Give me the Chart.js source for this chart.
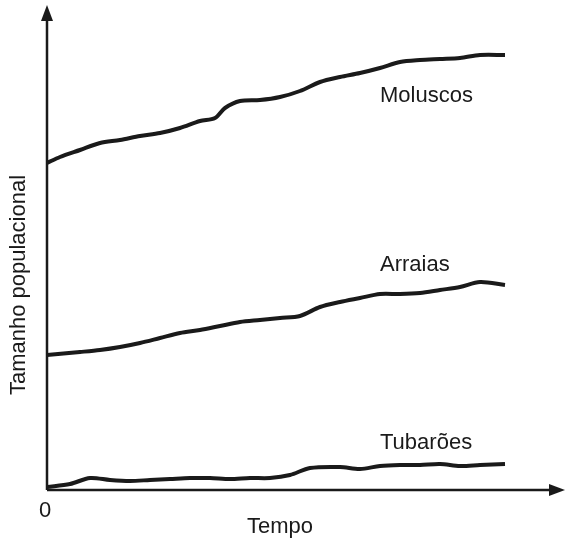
<!DOCTYPE html>
<html>
<head>
<meta charset="utf-8">
<script src="https://cdn.jsdelivr.net/npm/chart.js@4"></script>
<style>
  html, body { margin: 0; padding: 0; background: #fff; }
  #wrap { width: 567px; height: 548px; }
</style>
</head>
<body>
<div id="wrap"><canvas id="chart"></canvas></div>
<script>
// time (arbitrary units) and population size (arbitrary units)
const tempo = [0, 13, 33, 53, 73, 93, 113, 133, 153, 168, 178, 193, 213, 233, 253, 273, 293, 313, 333, 353, 373, 393, 413, 433, 458];
const moluscos = [327, 333, 340, 347, 350, 354, 357, 362, 369, 372, 382, 389, 390, 393, 399, 408, 413, 417, 422, 428, 430, 431, 432, 435, 435];

const tempoArr = [0, 33, 53, 73, 93, 113, 133, 153, 173, 193, 213, 233, 253, 273, 293, 313, 333, 353, 373, 393, 413, 433, 458];
const arraias = [135, 138, 140, 143, 147, 152, 157, 160, 164, 168, 170, 172, 174, 183, 188, 192, 196, 196, 197, 200, 203, 208, 205];

const tempoTub = [0, 23, 43, 63, 83, 103, 123, 143, 163, 183, 203, 223, 243, 263, 293, 313, 333, 353, 373, 393, 413, 433, 458];
const tubaroes = [3, 6, 12, 10, 9, 10, 11, 12, 12, 11, 12, 12, 15, 22, 23, 21, 24, 25, 25, 26, 24, 25, 26];

const toPts = (xs, ys) => xs.map((x, i) => ({ x: x, y: ys[i] }));

const axesPlugin = {
    id: 'axesPlugin',
    afterDraw(chart) {
        const { ctx, chartArea: a } = chart;
        ctx.save();
        ctx.strokeStyle = '#1a1a1a';
        ctx.fillStyle = '#1a1a1a';
        ctx.lineWidth = 2.5;
        // y axis
        ctx.beginPath(); ctx.moveTo(a.left, a.bottom); ctx.lineTo(a.left, a.top + 10); ctx.stroke();
        ctx.beginPath(); ctx.moveTo(a.left, a.top); ctx.lineTo(a.left - 6, a.top + 16); ctx.lineTo(a.left + 6, a.top + 16); ctx.closePath(); ctx.fill();
        // x axis
        ctx.beginPath(); ctx.moveTo(a.left, a.bottom); ctx.lineTo(a.right - 12, a.bottom); ctx.stroke();
        ctx.beginPath(); ctx.moveTo(a.right - 2, a.bottom); ctx.lineTo(a.right - 18, a.bottom - 6); ctx.lineTo(a.right - 18, a.bottom + 6); ctx.closePath(); ctx.fill();
        // texts
        ctx.font = '22px "Liberation Sans", Arial, sans-serif';
        ctx.textBaseline = 'middle';
        ctx.textAlign = 'left';
        ctx.fillText('Moluscos', 380, 96);
        ctx.fillText('Arraias', 380, 265);
        ctx.fillText('Tubarões', 380, 443);
        ctx.textAlign = 'center';
        ctx.fillText('0', 45, 511);
        ctx.fillText('Tempo', 280, 527);
        ctx.translate(19, 285);
        ctx.rotate(-Math.PI / 2);
        ctx.fillText('Tamanho populacional', 0, 0);
        ctx.restore();
    }
};

const lineStyle = { borderColor: '#1a1a1a', borderWidth: 4, pointRadius: 0, tension: 0.3, fill: false };

new Chart(document.getElementById('chart'), {
    type: 'line',
    data: {
        datasets: [
            Object.assign({ label: 'Moluscos', data: toPts(tempo, moluscos) }, lineStyle),
            Object.assign({ label: 'Arraias', data: toPts(tempoArr, arraias) }, lineStyle),
            Object.assign({ label: 'Tubarões', data: toPts(tempoTub, tubaroes) }, lineStyle)
        ]
    },
    options: {
        responsive: true,
        maintainAspectRatio: false,
        animation: false,
        layout: { padding: { left: 47, right: 0, top: 5, bottom: 58 } },
        plugins: { legend: { display: false }, tooltip: { enabled: false } },
        scales: {
            x: { type: 'linear', min: 0, max: 520, display: false },
            y: { min: 0, max: 485, display: false }
        }
    },
    plugins: [axesPlugin]
});
</script>
</body>
</html>
